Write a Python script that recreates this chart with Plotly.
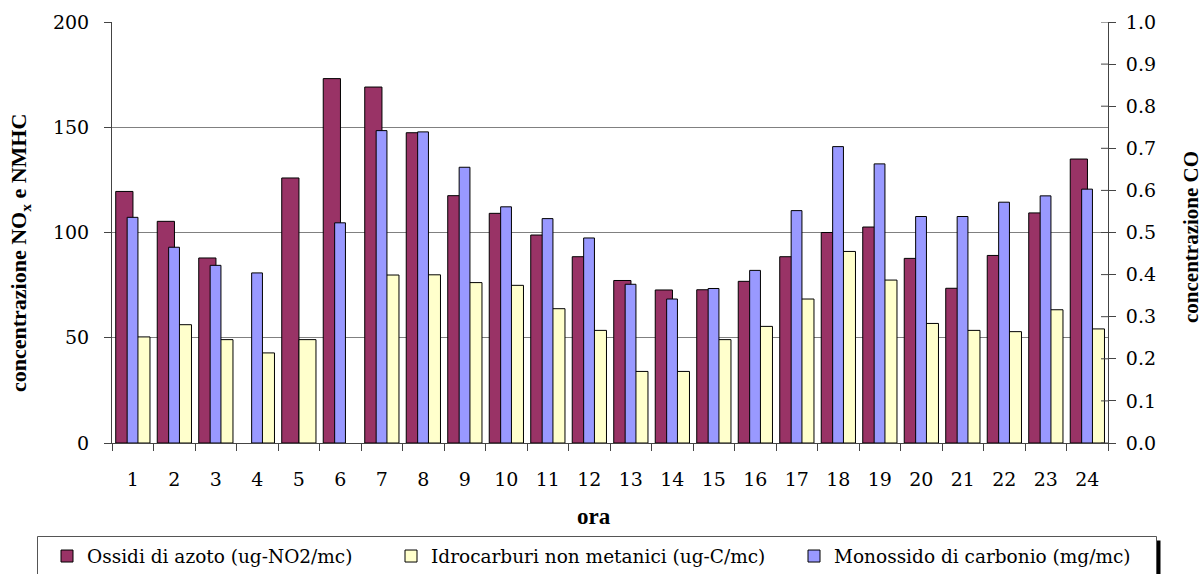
import plotly.graph_objects as go

# Ora del giorno
ore = [str(h) for h in range(1, 25)]

# Ossidi di azoto (ug-NO2/mc) - asse sinistro
nox = [119.5, 105.3, 87.9, None, 125.9, 173.1, 169.1, 147.4, 117.5, 109.1, 98.8, 88.5,
       77.2, 72.7, 72.8, 76.8, 88.5, 100.0, 102.6, 87.7, 73.5, 89.1, 109.3, 134.9]

# Idrocarburi non metanici (ug-C/mc) - asse sinistro
nmhc = [50.4, 56.2, 49.1, 42.8, 49.1, None, 79.8, 79.9, 76.2, 74.9, 63.8, 53.5,
        34.0, 34.0, 49.1, 55.4, 68.4, 91.0, 77.4, 56.8, 53.5, 52.9, 63.3, 54.2]

# Monossido di carbonio (mg/mc) - asse destro
co = [0.536, 0.465, 0.422, 0.404, None, 0.523, 0.742, 0.739, 0.655, 0.561, 0.533, 0.487,
      0.377, 0.342, 0.367, 0.410, 0.552, 0.704, 0.663, 0.538, 0.538, 0.572, 0.587, 0.603]

left_ticks = [0, 50, 100, 150, 200]
right_ticks = [round(i * 0.1, 1) for i in range(11)]

SERIF = "DejaVu Serif"          # testo normale
SERIF_B = "Times New Roman"     # titoli in grassetto
W, H = 1204, 574
ML, MR, MT, MB = 112, 96, 22, 131
PW, PH = W - ML - MR, H - MT - MB


def px_x(p):
    return (p - ML) / PW


def px_y(p):
    return (H - MB - p) / PH


fig = go.Figure()

fig.add_trace(go.Bar(
    x=ore, y=nox, name="Ossidi di azoto (ug-NO2/mc)",
    marker=dict(color="#993366", line=dict(color="#000000", width=1)),
    offset=-0.41, width=0.415, legend="legend2",
))
fig.add_trace(go.Bar(
    x=ore, y=nmhc, name="Idrocarburi non metanici (ug-C/mc)",
    marker=dict(color="#FFFFCC", line=dict(color="#000000", width=1)),
    offset=0.005, width=0.41, legend="legend3",
))
fig.add_trace(go.Bar(
    x=ore, y=co, name="Monossido di carbonio (mg/mc)", yaxis="y2",
    marker=dict(color="#9999FF", line=dict(color="#000000", width=1)),
    offset=-0.135, width=0.26, legend="legend4",
))

tickfont = dict(family=SERIF, size=19, color="#000000")
legfont = dict(family=SERIF, size=18.5, color="#000000")
leg_common = dict(orientation="h", yanchor="middle", y=px_y(556.5), xanchor="left",
                  bgcolor="rgba(0,0,0,0)", borderwidth=0, font=legfont)

shapes = []
# tacche interne dell'asse destro (tacca a croce)
for v in right_ticks:
    shapes.append(dict(type="line", xref="paper", yref="y2",
                       x0=1, x1=1 - 7 / PW, y0=v, y1=v,
                       line=dict(color="#444444", width=1)))
# cornice della legenda con ombra
shapes.append(dict(type="rect", xref="paper", yref="paper",
                   x0=px_x(1156.5), x1=px_x(1160.5), y0=px_y(540.5), y1=px_y(590),
                   fillcolor="#000000", line=dict(width=0)))
shapes.append(dict(type="rect", xref="paper", yref="paper",
                   x0=px_x(37.5), x1=px_x(1156.5), y0=px_y(536.5), y1=px_y(590),
                   fillcolor="rgba(0,0,0,0)", line=dict(color="#555555", width=1)))

# titoli degli assi e dell'asse orizzontale
annotations = [
    dict(text="<b>ora</b>", xref="paper", yref="paper",
         x=px_x(594), y=px_y(516), xanchor="center", yanchor="middle",
         showarrow=False, font=dict(family=SERIF_B, size=23, color="#000000")),
    dict(text="<b>concentrazione NO<sub>x</sub> e NMHC</b>", xref="paper", yref="paper",
         x=px_x(20), y=px_y(253), xanchor="center", yanchor="middle", textangle=-90,
         showarrow=False, font=dict(family=SERIF_B, size=22, color="#000000")),
    dict(text="<b>concentrazione CO</b>", xref="paper", yref="paper",
         x=px_x(1191), y=px_y(237), xanchor="center", yanchor="middle", textangle=-90,
         showarrow=False, font=dict(family=SERIF_B, size=21, color="#000000")),
]

fig.update_layout(
    width=W, height=H,
    margin=dict(l=ML, r=MR, t=MT, b=MB, autoexpand=False),
    paper_bgcolor="#FFFFFF", plot_bgcolor="#FFFFFF",
    barmode="overlay",
    xaxis=dict(
        type="category", range=[-0.5, 23.5], tickson="boundaries",
        ticks="outside", ticklen=7, tickcolor="#444444",
        showline=True, linecolor="#444444", linewidth=1,
        showgrid=False, tickfont=tickfont, ticklabelstandoff=19,
    ),
    yaxis=dict(
        range=[0, 200], tickvals=left_ticks, ticks="outside", ticklen=7,
        tickcolor="#444444", showline=True, linecolor="#444444", linewidth=1,
        showgrid=True, gridcolor="#808080", gridwidth=1, zeroline=False,
        tickfont=tickfont, ticklabelstandoff=11,
    ),
    yaxis2=dict(
        overlaying="y", side="right", range=[0, 1], tickvals=right_ticks,
        tickformat=".1f", ticks="outside", ticklen=7, tickcolor="#444444",
        showline=True, linecolor="#444444", linewidth=1, showgrid=False,
        zeroline=False, tickfont=tickfont, ticklabelstandoff=6,
    ),
    showlegend=True,
    legend2=dict(x=px_x(47), **leg_common),
    legend3=dict(x=px_x(391), **leg_common),
    legend4=dict(x=px_x(794), **leg_common),
    shapes=shapes,
    annotations=annotations,
)

fig.write_html("out.html")
